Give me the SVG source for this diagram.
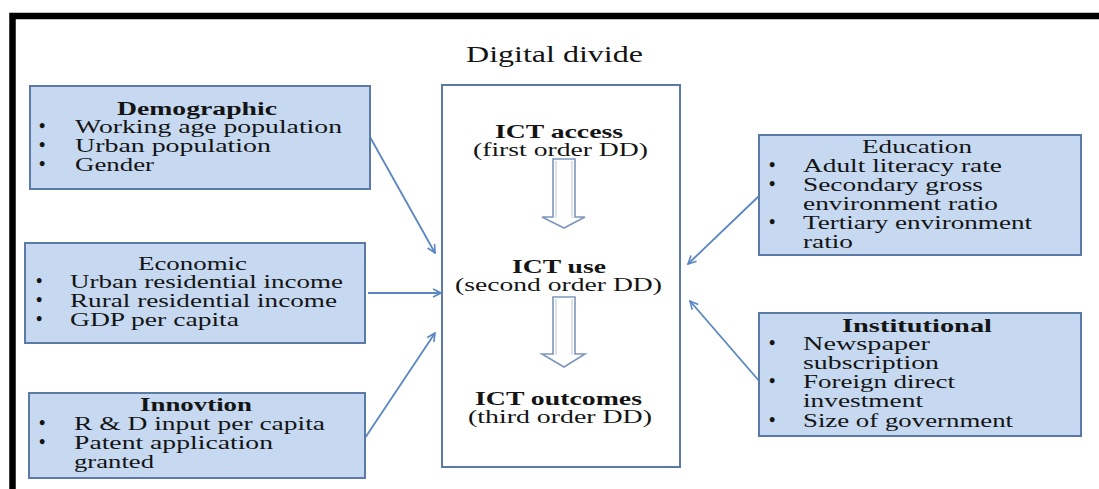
<svg xmlns="http://www.w3.org/2000/svg" width="1099" height="489" viewBox="0 0 1099 489">
  <style>
    .t { font-family: "Liberation Serif", "Times New Roman", serif; font-size: 18.5px; fill: #141414; }
    .b { font-weight: bold; }
    .dot { font-family: "Liberation Serif", "Times New Roman", serif; font-size: 18px; font-weight: bold; fill: #141414; }
    .box { fill: #c6d9f1; stroke: #5b7aa6; stroke-width: 2; }
    .core { fill: #ffffff; stroke: #5b7aa6; stroke-width: 2; }
    .link { fill: none; stroke: #5a87c2; stroke-width: 1.8; }
    .flow { fill: #ffffff; stroke: #7e96ba; stroke-width: 1.6; }
    .flow-in { fill: none; stroke: #c4d0e2; stroke-width: 1.2; }
  </style>
  <defs>
    <marker id="vhead" viewBox="0 0 10 10" refX="9" refY="5" markerWidth="10" markerHeight="10" markerUnits="userSpaceOnUse" orient="auto">
      <path d="M1,1 L9,5 L1,9" fill="none" stroke="#5a87c2" stroke-width="1.6"/>
    </marker>
  </defs>

  <rect width="1099" height="489" fill="#ffffff"/>

  <!-- frame -->
  <path d="M12.5,489 V16 H1099" fill="none" stroke="#000000" stroke-width="6.5"/>

  <text class="t" x="466" y="62" textLength="177" lengthAdjust="spacingAndGlyphs" style="font-size:23px">Digital divide</text>

  <!-- connectors -->
  <g id="connectors">
    <line class="link" x1="370" y1="137" x2="435" y2="253" marker-end="url(#vhead)"/>
    <line class="link" x1="368" y1="293" x2="441" y2="293" marker-end="url(#vhead)"/>
    <line class="link" x1="365" y1="438" x2="435" y2="333" marker-end="url(#vhead)"/>
    <line class="link" x1="759" y1="196" x2="688" y2="264" marker-end="url(#vhead)"/>
    <line class="link" x1="760" y1="382" x2="690" y2="301" marker-end="url(#vhead)"/>
  </g>

  <g id="demographic">
    <rect class="box" x="30" y="86" width="340" height="103"/>
    <text class="t b" x="117" y="115" textLength="160" lengthAdjust="spacingAndGlyphs">Demographic</text>
    <text class="dot" x="39" y="132">•</text>
    <text class="dot" x="39" y="151">•</text>
    <text class="dot" x="39" y="170">•</text>
    <text class="t" x="75" y="133" textLength="267" lengthAdjust="spacingAndGlyphs">Working age population</text>
    <text class="t" x="75" y="152" textLength="196" lengthAdjust="spacingAndGlyphs">Urban population</text>
    <text class="t" x="75" y="171" textLength="79" lengthAdjust="spacingAndGlyphs">Gender</text>
  </g>

  <g id="economic">
    <rect class="box" x="25" y="243" width="340" height="100"/>
    <text class="t" x="138" y="270" textLength="109" lengthAdjust="spacingAndGlyphs">Economic</text>
    <text class="dot" x="36" y="287">•</text>
    <text class="dot" x="36" y="306">•</text>
    <text class="dot" x="36" y="325">•</text>
    <text class="t" x="70" y="288" textLength="273" lengthAdjust="spacingAndGlyphs">Urban residential income</text>
    <text class="t" x="70" y="307" textLength="267" lengthAdjust="spacingAndGlyphs">Rural residential income</text>
    <text class="t" x="70" y="326" textLength="169" lengthAdjust="spacingAndGlyphs">GDP per capita</text>
  </g>

  <g id="innovation">
    <rect class="box" x="29" y="393" width="336" height="85"/>
    <text class="t b" x="140" y="411" textLength="112" lengthAdjust="spacingAndGlyphs">Innovtion</text>
    <text class="dot" x="39" y="429">•</text>
    <text class="dot" x="39" y="448">•</text>
    <text class="t" x="74" y="430" textLength="251" lengthAdjust="spacingAndGlyphs">R &amp; D input per capita</text>
    <text class="t" x="74" y="449" textLength="199" lengthAdjust="spacingAndGlyphs">Patent application</text>
    <text class="t" x="74" y="468" textLength="80" lengthAdjust="spacingAndGlyphs">granted</text>
  </g>

  <g id="ict">
    <rect class="core" x="442" y="85" width="238" height="382"/>
    <text class="t b" x="495" y="138" textLength="128" lengthAdjust="spacingAndGlyphs">ICT access</text>
    <text class="t" x="473" y="156" textLength="175" lengthAdjust="spacingAndGlyphs">(first order DD)</text>
    <polygon class="flow" points="553,159 575,159 575,217 585,217 564,228 542,217 553,217"/>
    <line class="flow-in" x1="556" y1="161" x2="556" y2="218"/>
    <line class="flow-in" x1="572" y1="161" x2="572" y2="218"/>
    <text class="t b" x="512" y="273" textLength="94" lengthAdjust="spacingAndGlyphs">ICT use</text>
    <text class="t" x="455" y="291" textLength="207" lengthAdjust="spacingAndGlyphs">(second order DD)</text>
    <polygon class="flow" points="553,297 575,297 575,354 585,354 564,367 542,354 553,354"/>
    <line class="flow-in" x1="556" y1="299" x2="556" y2="355"/>
    <line class="flow-in" x1="572" y1="299" x2="572" y2="355"/>
    <text class="t b" x="475" y="405" textLength="167" lengthAdjust="spacingAndGlyphs">ICT outcomes</text>
    <text class="t" x="468" y="423" textLength="184" lengthAdjust="spacingAndGlyphs">(third order DD)</text>
  </g>

  <g id="education">
    <rect class="box" x="759" y="135" width="322" height="120"/>
    <text class="t" x="862" y="153" textLength="110" lengthAdjust="spacingAndGlyphs">Education</text>
    <text class="dot" x="769" y="171">•</text>
    <text class="dot" x="769" y="190">•</text>
    <text class="dot" x="769" y="228">•</text>
    <text class="t" x="803" y="172" textLength="199" lengthAdjust="spacingAndGlyphs">Adult literacy rate</text>
    <text class="t" x="803" y="191" textLength="180" lengthAdjust="spacingAndGlyphs">Secondary gross</text>
    <text class="t" x="803" y="210" textLength="195" lengthAdjust="spacingAndGlyphs">environment ratio</text>
    <text class="t" x="803" y="229" textLength="229" lengthAdjust="spacingAndGlyphs">Tertiary environment</text>
    <text class="t" x="803" y="248" textLength="50" lengthAdjust="spacingAndGlyphs">ratio</text>
  </g>

  <g id="institutional">
    <rect class="box" x="759" y="313" width="322" height="123"/>
    <text class="t b" x="842" y="332" textLength="150" lengthAdjust="spacingAndGlyphs">Institutional</text>
    <text class="dot" x="769" y="349">•</text>
    <text class="dot" x="769" y="387">•</text>
    <text class="dot" x="769" y="426">•</text>
    <text class="t" x="803" y="350" textLength="127" lengthAdjust="spacingAndGlyphs">Newspaper</text>
    <text class="t" x="803" y="369" textLength="136" lengthAdjust="spacingAndGlyphs">subscription</text>
    <text class="t" x="803" y="388" textLength="152" lengthAdjust="spacingAndGlyphs">Foreign direct</text>
    <text class="t" x="803" y="407" textLength="120" lengthAdjust="spacingAndGlyphs">investment</text>
    <text class="t" x="803" y="427" textLength="210" lengthAdjust="spacingAndGlyphs">Size of government</text>
  </g>
</svg>
